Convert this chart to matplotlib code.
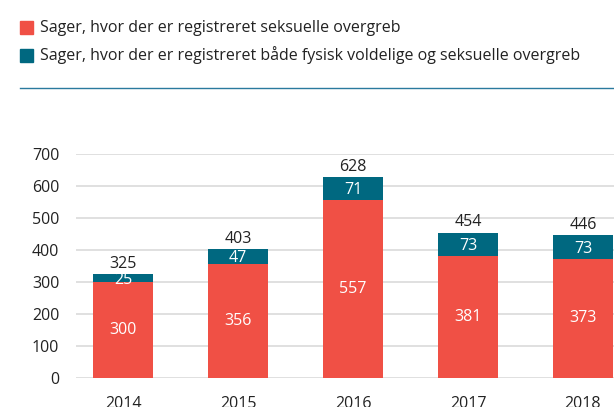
import matplotlib
matplotlib.use("Agg")
import matplotlib.pyplot as plt
from matplotlib.lines import Line2D
from matplotlib.patches import Rectangle

plt.rcParams['font.family'] = ['Open Sans', 'DejaVu Sans']

years = ['2014', '2015', '2016', '2017', '2018']
seksuelle = [300, 356, 557, 381, 373]
begge = [25, 47, 71, 73, 73]
totals = [325, 403, 628, 454, 446]
legend_labels = ['Sager, hvor der er registreret seksuelle overgreb',
                 'Sager, hvor der er registreret både fysisk voldelige og seksuelle overgreb']

red = '#f05045'
teal = '#006880'

fig = plt.figure(figsize=(6.14, 4.07), dpi=100)
ax = fig.add_axes([76 / 614, 29 / 407, 1 - 76 / 614, 224 / 407])

x = range(len(years))
ax.bar(x, seksuelle, width=0.52, color=red, zorder=3)
ax.bar(x, begge, width=0.52, bottom=seksuelle, color=teal, zorder=3)

for i in x:
    ax.text(i, seksuelle[i] / 2, str(seksuelle[i]), ha='center', va='center',
            color='white', fontsize=11.5, zorder=4)
    ax.text(i, seksuelle[i] + begge[i] / 2 - 5, str(begge[i]), ha='center', va='center',
            color='white', fontsize=11.5, zorder=4)
    ax.text(i, totals[i] + 7, str(totals[i]), ha='center', va='bottom',
            color='#222222', fontsize=11.5, zorder=4)

ax.set_xlim(-0.41, 4.27)
ax.set_ylim(0, 700)
ax.set_yticks(range(0, 701, 100))
ax.set_xticks(list(x))
ax.set_xticklabels(years)
ax.tick_params(axis='both', length=0, labelsize=11.5, colors='#222222')
ax.tick_params(axis='y', pad=12)
ax.tick_params(axis='x', pad=13)
ax.grid(axis='y', color='#dddddd', linewidth=1.3, zorder=0)
for s in ax.spines.values():
    s.set_visible(False)

# legend
for k, (lab, col) in enumerate(zip(legend_labels, [red, teal])):
    ytop = 21 + k * 28
    fig.patches.append(Rectangle((20 / 614, 1 - (ytop + 13) / 407), 13 / 614, 13 / 407,
                                 transform=fig.transFigure, color=col))
    fig.text(40 / 614, 1 - (ytop + 6.5) / 407, lab, ha='left', va='center',
             fontsize=11.5, color='#222222')

fig.add_artist(Line2D([20 / 614, 1], [1 - 88 / 407, 1 - 88 / 407],
                      transform=fig.transFigure, color='#2a7a9e', linewidth=1))

fig.savefig('out.png', dpi=100)
